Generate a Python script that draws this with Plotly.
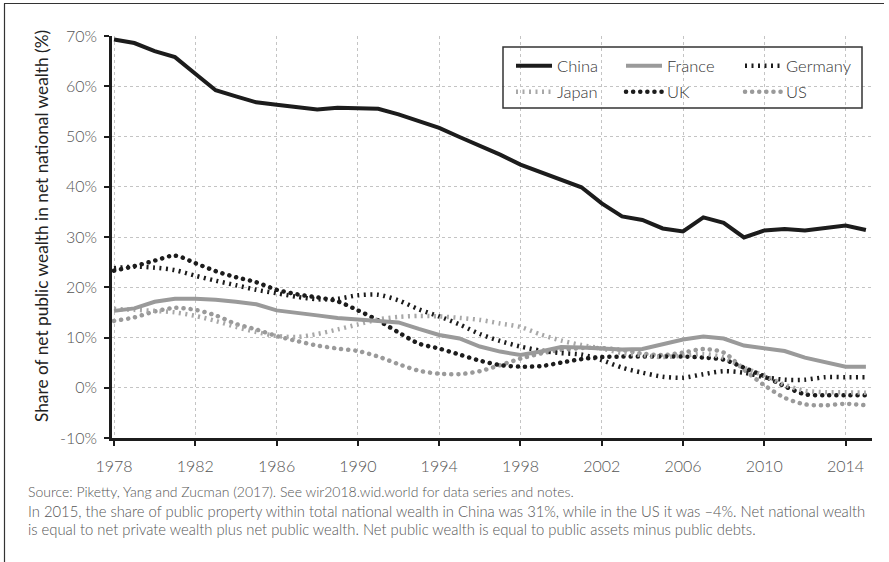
import plotly.graph_objects as go

# Share of net public wealth in net national wealth (%), 1978-2015
years = list(range(1978, 2016))

china = [69.3, 68.6, 67.0, 65.8, 62.5, 59.2, 58.0, 56.8, 56.3, 55.8,
         55.4, 55.7, 55.5, 55.5, 54.4, 53.0, 51.7, 49.9, 48.2, 46.4,
         44.4, 42.9, 41.4, 39.9, 36.7, 34.1, 33.4, 31.7, 31.1, 33.9,
         32.8, 29.9, 31.3, 31.6, 31.3, 31.9, 32.3, 31.4]
france = [15.3, 15.8, 17.1, 17.7, 17.7, 17.5, 17.1, 16.6, 15.4, 14.8,
          14.4, 13.9, 13.6, 13.4, 13.0, 11.7, 10.5, 9.8, 8.2, 7.2,
          6.5, 7.2, 8.1, 8.0, 7.8, 7.6, 7.7, 8.7, 9.6, 10.2,
          9.8, 8.4, 7.8, 7.3, 6.0, 5.1, 4.2, 4.2]
germany = [23.8, 24.1, 23.9, 23.4, 22.3, 21.3, 20.4, 19.5, 18.8, 18.1,
           17.6, 17.7, 18.4, 18.5, 17.4, 15.6, 14.2, 12.6, 10.7, 9.3,
           8.2, 7.4, 6.9, 6.6, 5.5, 4.0, 3.0, 2.2, 2.0, 2.7,
           3.3, 3.0, 2.1, 1.6, 1.6, 2.1, 2.1, 2.1]
japan = [15.7, 15.5, 15.3, 15.0, 14.3, 13.3, 12.1, 11.1, 10.3, 10.1,
         10.7, 11.6, 12.6, 13.6, 14.1, 14.3, 14.2, 13.9, 13.5, 12.8,
         12.1, 10.6, 9.4, 8.5, 7.8, 6.9, 6.5, 6.1, 6.4, 6.7,
         6.0, 4.0, 2.4, 0.6, -0.6, -0.9, -0.9, -1.0]
uk = [23.3, 24.2, 25.3, 26.3, 24.8, 23.2, 22.0, 21.0, 19.5, 18.6,
      18.0, 17.2, 15.4, 13.4, 11.0, 8.8, 7.8, 6.6, 5.4, 4.5,
      4.2, 4.3, 5.0, 5.7, 6.1, 6.2, 6.2, 6.2, 6.2, 6.0,
      5.6, 4.0, 2.3, 0.3, -1.3, -1.5, -1.5, -1.5]
us = [13.3, 14.0, 15.2, 15.9, 15.5, 14.4, 12.7, 11.6, 10.3, 9.3,
      8.4, 7.8, 7.3, 6.2, 4.7, 3.4, 2.8, 2.7, 3.3, 4.5,
      5.8, 6.8, 7.5, 7.9, 7.9, 7.5, 6.8, 6.5, 7.0, 7.7,
      7.0, 3.6, 0.5, -2.0, -3.3, -3.5, -3.2, -3.5]

x_ticks = list(range(1978, 2015, 4))
y_ticks = list(range(-10, 71, 10))
y_tick_text = [f"{v}%" for v in y_ticks]

BLACK = "#1c1c1c"
GREY = "#9a9a9a"
FONT = "Lato"

# plot-area geometry (px) used for paper-coordinate placement
W, H = 889, 562
ML, MR, MT, MB = 112, 17, 36, 124
PW, PH = W - ML - MR, H - MT - MB


def px_x(px):
    return (px - ML) / PW


def px_y(py):
    return (H - MB - py) / PH


series = [
    # name, values, colour, dash, shape, legend origin (px)
    ("China", china, BLACK, "solid", "linear", (511, 66)),
    ("France", france, GREY, "solid", "linear", (621, 66)),
    ("Germany", germany, BLACK, "2px,4.5px", "spline", (740, 66)),
    ("Japan", japan, "#a8a8a8", "2px,4.5px", "spline", (511, 92)),
    ("UK", uk, BLACK, "0.1px,7px", "spline", (621, 92)),
    ("US", us, GREY, "0.1px,7px", "spline", (740, 92)),
]

fig = go.Figure()
legend_layout = {}
for i, (name, vals, col, dash, shape, (lx, ly)) in enumerate(reversed(series)):
    key = "legend" if i == 0 else f"legend{i + 1}"
    fig.add_trace(go.Scatter(
        x=years, y=vals, name=name, mode="lines",
        line=dict(color=col, width=4.5 if dash != "solid" else 4,
                  dash=dash, shape=shape,
                  smoothing=0.8 if shape == "spline" else None),
        legend=key, hoverinfo="skip",
    ))
    legend_layout[key] = dict(
        x=px_x(lx), y=px_y(ly), xanchor="left", yanchor="middle",
        orientation="h", itemwidth=36,
        font=dict(family=FONT, size=16.5, color="#333", weight=300),
        bgcolor="rgba(0,0,0,0)", borderwidth=0,
    )

tick_font = dict(family=FONT, size=16, color="#555", weight=300)
source_font = dict(family=FONT, size=14.0, color="#555", weight=300)
note_font = dict(family=FONT, size=14.8, color="#555", weight=300)

fig.update_layout(
    width=W, height=H,
    margin=dict(l=ML, r=MR, t=MT, b=MB, pad=0),
    paper_bgcolor="white", plot_bgcolor="white",
    font=dict(family=FONT, color="#444"),
    showlegend=True,
    **legend_layout,
    xaxis=dict(
        range=[1977.9, 2015.3], tickvals=x_ticks,
        ticks="outside", ticklen=5, tickwidth=2, tickcolor=BLACK,
        showline=True, linewidth=2.5, linecolor=BLACK,
        showgrid=True, gridcolor="#c4c4c4", griddash="dot", gridwidth=1,
        zeroline=False, ticklabelstandoff=7, tickfont=tick_font,
    ),
    yaxis=dict(
        range=[-10, 70], tickvals=y_ticks, ticktext=y_tick_text,
        ticks="outside", ticklen=5, tickwidth=2, tickcolor=BLACK,
        showline=True, linewidth=2.5, linecolor=BLACK,
        showgrid=True, gridcolor="#c4c4c4", griddash="dot", gridwidth=1,
        zeroline=False, ticklabelstandoff=4, tickfont=tick_font,
    ),
    shapes=[
        # legend frame
        dict(type="rect", xref="paper", yref="paper",
             x0=px_x(503), x1=px_x(862), y0=px_y(108), y1=px_y(47),
             line=dict(color="#333", width=1.5), fillcolor="rgba(0,0,0,0)"),
        # outer frame (top and left edges)
        dict(type="line", xref="paper", yref="paper",
             x0=px_x(4), x1=px_x(884), y0=px_y(3.5), y1=px_y(3.5),
             line=dict(color="#333", width=1.2)),
        dict(type="line", xref="paper", yref="paper",
             x0=px_x(4.5), x1=px_x(4.5), y0=px_y(3.5), y1=px_y(562),
             line=dict(color="#333", width=1.2)),
    ],
    annotations=[
        dict(text="Share of net public wealth in net national wealth (%)",
             xref="paper", yref="paper", x=px_x(42), y=px_y(226),
             textangle=-90, showarrow=False, xanchor="center", yanchor="middle",
             font=dict(family=FONT, size=17.3, color="#222")),
        dict(text="Source: Piketty, Yang and Zucman (2017). See wir2018.wid.world for data series and notes.",
             xref="paper", yref="paper", x=px_x(26), y=px_y(491),
             showarrow=False, xanchor="left", yanchor="middle", font=source_font),
        dict(text="In 2015, the share of public property within total national wealth in China was 31%, "
                  "while in the US it was –4%. Net national wealth",
             xref="paper", yref="paper", x=px_x(26), y=px_y(511),
             showarrow=False, xanchor="left", yanchor="middle", font=note_font),
        dict(text="is equal to net private wealth plus net public wealth. "
                  "Net public wealth is equal to public assets minus public debts.",
             xref="paper", yref="paper", x=px_x(26), y=px_y(529),
             showarrow=False, xanchor="left", yanchor="middle", font=note_font),
    ],
)

# round caps turn the very short dashes of the UK and US lines into dots
round_caps = """
var gd = document.getElementById('{plot_id}');
function roundDots() {
  gd.querySelectorAll('path.js-line').forEach(function (p) {
    var d = p.style.strokeDasharray || '';
    if (d.indexOf('0.1') === 0) { p.style.strokeLinecap = 'round'; }
  });
}
roundDots();
gd.on('plotly_afterplot', roundDots);
"""

fig.write_html("out.html", post_script=round_caps)
